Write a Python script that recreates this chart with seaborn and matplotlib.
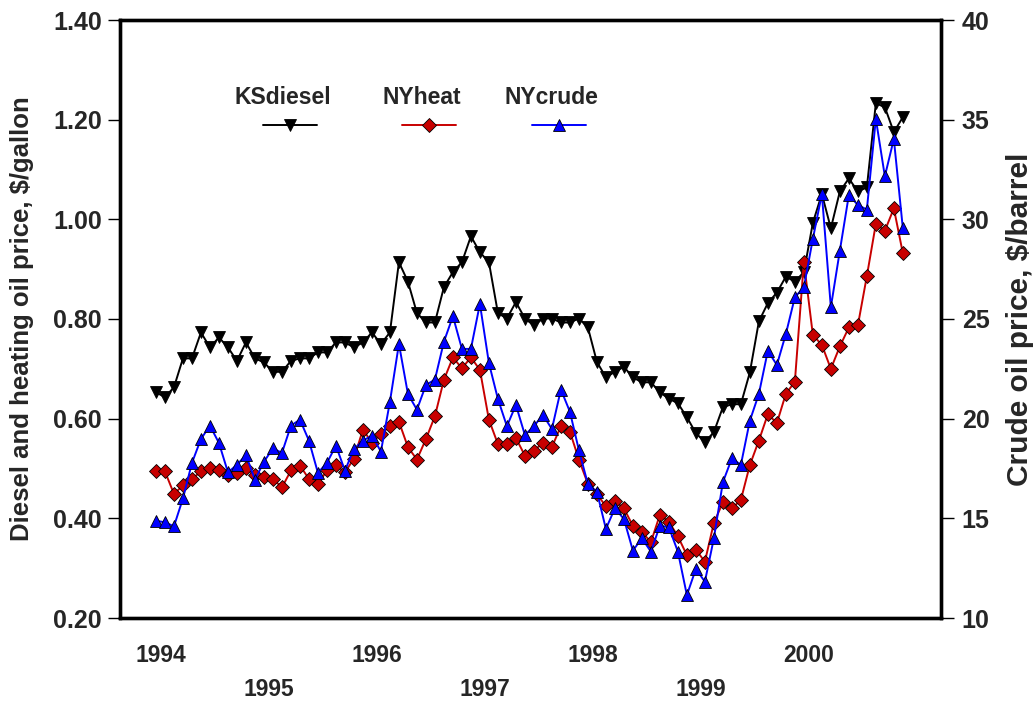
import numpy as np
import pandas as pd
import matplotlib
matplotlib.use("Agg")
import matplotlib.pyplot as plt
import seaborn as sns

# ---------------- data (monthly, Jan 1994 - Dec 2000) ----------------
start_year = 1994
n_months = 84

ks_diesel = [0.653, 0.643, 0.663, 0.721, 0.721, 0.773, 0.743, 0.763, 0.743, 0.716, 0.753, 0.721,
             0.713, 0.694, 0.694, 0.716, 0.721, 0.721, 0.733, 0.733, 0.753, 0.753, 0.743, 0.753,
             0.773, 0.750, 0.773, 0.914, 0.875, 0.812, 0.793, 0.793, 0.864, 0.894, 0.914, 0.966,
             0.934, 0.914, 0.812, 0.801, 0.834, 0.801, 0.787, 0.801, 0.801, 0.793, 0.793, 0.801,
             0.783, 0.714, 0.683, 0.694, 0.704, 0.683, 0.673, 0.673, 0.653, 0.640, 0.631, 0.603,
             0.571, 0.553, 0.573, 0.623, 0.629, 0.629, 0.693, 0.795, 0.832, 0.853, 0.885, 0.875,
             0.894, 0.993, 1.051, 0.982, 1.056, 1.082, 1.056, 1.064, 1.233, 1.225, 1.175, 1.205]

ny_heat = [0.494, 0.494, 0.449, 0.466, 0.479, 0.494, 0.500, 0.496, 0.487, 0.491, 0.500, 0.487,
           0.482, 0.479, 0.462, 0.496, 0.506, 0.479, 0.469, 0.496, 0.507, 0.492, 0.520, 0.578,
           0.552, 0.569, 0.585, 0.594, 0.543, 0.518, 0.559, 0.605, 0.678, 0.723, 0.701, 0.723,
           0.698, 0.598, 0.549, 0.549, 0.561, 0.526, 0.536, 0.551, 0.543, 0.585, 0.574, 0.518,
           0.469, 0.449, 0.424, 0.435, 0.420, 0.385, 0.373, 0.352, 0.407, 0.393, 0.364, 0.326,
           0.337, 0.313, 0.391, 0.432, 0.420, 0.437, 0.507, 0.556, 0.609, 0.591, 0.650, 0.674,
           0.915, 0.768, 0.748, 0.700, 0.745, 0.783, 0.787, 0.886, 0.991, 0.977, 1.022, 0.932]

ny_crude = [14.88, 14.80, 14.60, 16.00, 17.78, 18.98, 19.65, 18.78, 17.31, 17.68, 18.18, 16.94,
            17.84, 18.51, 18.28, 19.65, 19.95, 18.90, 17.28, 17.78, 18.65, 17.39, 18.48, 18.90,
            19.15, 18.35, 20.85, 23.75, 21.24, 20.45, 21.69, 21.96, 23.86, 25.14, 23.50, 23.50,
            25.76, 22.79, 20.99, 19.62, 20.69, 19.18, 19.62, 20.19, 19.48, 21.46, 20.35, 18.42,
            16.72, 16.34, 14.47, 15.50, 14.97, 13.38, 14.00, 13.33, 14.63, 14.55, 13.33, 11.15,
            12.46, 11.82, 14.00, 16.81, 18.01, 17.68, 19.90, 21.24, 23.41, 22.69, 24.25, 26.09,
            26.59, 29.02, 31.27, 25.59, 28.43, 31.22, 30.72, 30.49, 35.04, 32.16, 34.03, 29.55]

series_names = ["KSdiesel", "NYheat", "NYcrude"]
even_years = [1994, 1996, 1998, 2000]
odd_years = [1995, 1997, 1999]
left_ticks = [0.20, 0.40, 0.60, 0.80, 1.00, 1.20, 1.40]
right_ticks = [10, 15, 20, 25, 30, 35, 40]

t = start_year + np.arange(n_months) / 12.0
df = pd.DataFrame({"t": t, "KSdiesel": ks_diesel, "NYheat": ny_heat, "NYcrude": ny_crude})

# ---------------- style ----------------
sns.set_style("white")
plt.rcParams["font.family"] = ["Liberation Sans", "DejaVu Sans"]
plt.rcParams["font.weight"] = "bold"

FS_X = 16.5
FS_Y = 18
FS_LEG = 16.5
fig = plt.figure(figsize=(10.34, 7.02), dpi=100)
ax = fig.add_axes([120 / 1034, 84 / 702, 821 / 1034, 598 / 702])
ax2 = ax.twinx()

c_black = "#000000"
c_red = "#C80000"
c_blue = "#0000FF"
lw = 1.4
ms = 8

sns.lineplot(data=df, x="t", y="KSdiesel", ax=ax, color=c_black, marker="v",
             markersize=ms + 1, markeredgecolor="black", markeredgewidth=0.6, linewidth=lw)
sns.lineplot(data=df, x="t", y="NYheat", ax=ax, color=c_red, marker="D",
             markersize=ms - 0.5, markerfacecolor=c_red, markeredgecolor="black",
             markeredgewidth=0.6, linewidth=lw)
sns.lineplot(data=df, x="t", y="NYcrude", ax=ax2, color=c_blue, marker="^",
             markersize=ms + 1, markerfacecolor=c_blue, markeredgecolor="black",
             markeredgewidth=0.6, linewidth=lw)

# ---------------- axes ----------------
ax.set_xlim(1993.667, 2001.27)
ax.set_ylim(0.20, 1.40)
ax2.set_ylim(10, 40)

ax.set_yticks(left_ticks)
ax.set_yticklabels([f"{v:.2f}" for v in left_ticks], fontsize=FS_Y, fontweight="bold")
ax2.set_yticks(right_ticks)
ax2.set_yticklabels([str(v) for v in right_ticks], fontsize=FS_Y, fontweight="bold")

off = 0.5 / 12
ax.set_xticks([y + off for y in even_years])
ax.set_xticklabels([str(y) for y in even_years], fontsize=FS_X, fontweight="bold")
ax.set_xticks([y + off for y in odd_years], minor=True)
ax.set_xticklabels([str(y) for y in odd_years], minor=True, fontsize=FS_X, fontweight="bold")
ax.tick_params(axis="x", which="major", length=0, pad=19)
ax.tick_params(axis="x", which="minor", length=0, pad=43)

ax.tick_params(axis="y", which="major", direction="out", length=9, width=1.0,
               left=True, right=False, pad=4, color="black")
ax2.tick_params(axis="y", which="major", direction="out", length=9, width=1.0,
                right=True, left=False, pad=6, color="black")

ax.set_xlabel("")
ax.set_ylabel("Diesel and heating oil price, $/gallon", fontsize=18.5, fontweight="bold", labelpad=14)
ax2.set_ylabel("Crude oil price, $/barrel", fontsize=21.5, fontweight="bold", labelpad=12)

for a in (ax, ax2):
    for s in a.spines.values():
        s.set_visible(True)
        s.set_linewidth(2.4)
        s.set_color("black")
    a.grid(False)

# ---------------- legend (name above line sample) ----------------
handles = [ax.lines[0], ax.lines[1], ax2.lines[0]]
legend_x = [0.1985, 0.368, 0.526]
legs = []
for h, name, xc in zip(handles, series_names, legend_x):
    leg = ax2.legend(handles=[h], labels=[""], title=name, loc="center",
                     bbox_to_anchor=(xc, 0.847), frameon=False, numpoints=1,
                     prop={"size": 15}, handlelength=2.6, handletextpad=-0.65,
                     borderpad=0.0, borderaxespad=0.0,
                     title_fontproperties={"size": FS_LEG, "weight": "bold"})
    leg._legend_box.sep = 6
    legs.append(leg)
for leg in legs[:-1]:
    ax2.add_artist(leg)

fig.savefig("out.png", dpi=100)
